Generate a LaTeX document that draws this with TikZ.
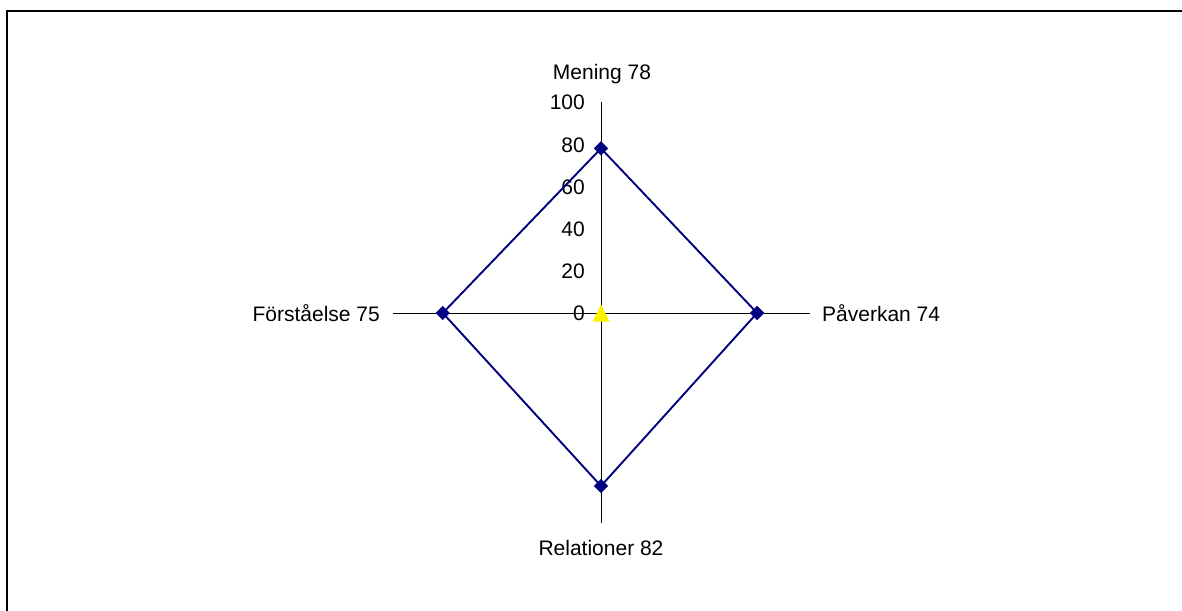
\documentclass[tikz,border=0pt]{standalone}
\usepackage{fontspec}
\setmainfont{Liberation Sans}
\usetikzlibrary{shapes.geometric}
\definecolor{series}{RGB}{0,0,128}
\tikzset{
  axisline/.style={draw=black, line width=1pt},
  serieslink/.style={draw=series, line width=1.9pt},
  datapt/.style={diamond, fill=series, inner sep=0pt, minimum width=14pt, minimum height=14pt},
  lbl/.style={font=\fontsize{21}{25}\selectfont, inner sep=0pt},
  ticklbl/.style={font=\fontsize{21}{25}\selectfont, inner sep=0pt, anchor=east},
  markerB/.style={fill=yellow},
}
\begin{document}
\begin{tikzpicture}[x=1pt,y=-1pt]
\useasboundingbox (0,0) rectangle (1182,610);
\fill[white] (0,0) rectangle (1182,610);
\draw[line width=2pt] (7,640) -- (7,11) -- (1200,11);
% axes
\coordinate (O) at (601,313);
\coordinate (top) at (601,102);
\coordinate (bot) at (601,523);
\coordinate (lft) at (393,313);
\coordinate (rgt) at (810,313);
\draw[axisline] (top) -- (bot);
\draw[axisline] (lft) -- (rgt);
% tick labels
\node[ticklbl] (t0) at (585,313) {0};
\node[ticklbl] (t20) at (585,271) {20};
\node[ticklbl] (t40) at (585,229) {40};
\node[ticklbl] (t60) at (585,187) {60};
\node[ticklbl] (t80) at (585,145) {80};
\node[ticklbl] (t100) at (585,102) {100};
% data
\node[datapt] (m) at (601,148.4) {};
\node[datapt] (p) at (757.1,313) {};
\node[datapt] (r) at (601,486) {};
\node[datapt] (f) at (442.8,313) {};
\draw[serieslink] (m.center) -- (p.center) -- (r.center) -- (f.center) -- cycle;
\node[datapt] at (m) {};
\node[datapt] at (p) {};
\node[datapt] at (r) {};
\node[datapt] at (f) {};
% second series marker
\fill[markerB] (O) ++(-8.5,8.5) -- ++(17,0) -- ++(-8.5,-17) -- cycle;
% category labels
\node[lbl] (lm) at (602,74) {Mening 78};
\node[lbl, anchor=east] (lf) at (380,313) {Förståelse 75};
\node[lbl, anchor=west] (lp) at (822,313) {Påverkan 74};
\node[lbl] (lr) at (601,548) {Relationer 82};
\end{tikzpicture}
\end{document}
